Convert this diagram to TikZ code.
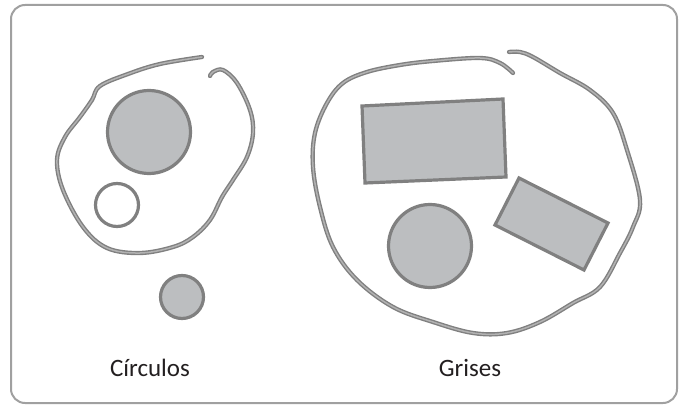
\documentclass[tikz,border=0pt]{standalone}
\usepackage{fontspec}
\setmainfont{Carlito}
\definecolor{edgegrey}{RGB}{128,128,128}
\definecolor{coregrey}{RGB}{178,178,178}
\definecolor{fillgrey}{RGB}{188,190,192}
\definecolor{framegrey}{RGB}{160,160,160}
\definecolor{textgrey}{RGB}{35,31,32}

\begin{document}
\begin{tikzpicture}[
    x=1pt, y=-1pt,
    frame/.style={draw=framegrey, line width=2pt, rounded corners=14pt},
    lasso/.style={draw=edgegrey, line width=1.4pt, double=coregrey, double distance=1.5pt,
      line cap=round},
    shapefill/.style={draw=edgegrey, line width=3.2pt, fill=fillgrey, line join=miter},
    ring/.style={circle, draw=edgegrey, line width=3.2pt, fill=white, inner sep=0pt},
    disc/.style={ring, fill=fillgrey},
    lbl/.style={font=\fontsize{25}{28}\selectfont, text=textgrey},
]
\useasboundingbox (0,0) rectangle (680,406);

% ---------------------------------------------------------------- frame ---
\draw[frame] (11,5) rectangle (677,403);

% ------------------------------------------------------------ left set ---
\draw[lasso] plot[smooth, tension=0.6] coordinates {
  (202,57) (160,64) (128,74) (100,86) (92,100) (80,117) (65,137) (57,160) (63,190)
  (83,227) (107,248) (140,253) (173,247) (193,237) (210,220) (222,197)
  (233,180) (247,157) (253,133) (250,110) (237,83) (223,70) (213,72) (210,76)};

\node[disc, minimum size=83pt] (bigdisc) at (149,132) {};
\node[ring, minimum size=43pt] (opendisc) at (117,205) {};
\node[disc, minimum size=43pt] (smalldisc) at (182,297) {};

\node[lbl] (circulos) at (150,368) {Círculos};

% ----------------------------------------------------------- right set ---
\draw[lasso] plot[smooth, tension=0.6] coordinates {
  (513,73) (500,63) (480,58) (433,61) (400,65) (367,72) (343,83) (327,103)
  (315,133) (313,167) (320,207) (333,247) (357,280) (393,307) (433,322)
  (473,333) (507,333) (540,322) (573,303) (600,287) (620,253) (633,227)
  (640,200) (627,150) (613,113) (590,90) (560,73) (533,57) (520,52) (509,52)};

\draw[shapefill] (362,106) -- (503,99) -- (506,177) -- (365,183) -- cycle;
\draw[shapefill] (519,178) -- (608,223) -- (584,270) -- (495,225) -- cycle;
\node[disc, minimum size=83pt] (greydisc) at (430,246) {};

\node[lbl] (grises) at (470,368) {Grises};

\end{tikzpicture}
\end{document}
